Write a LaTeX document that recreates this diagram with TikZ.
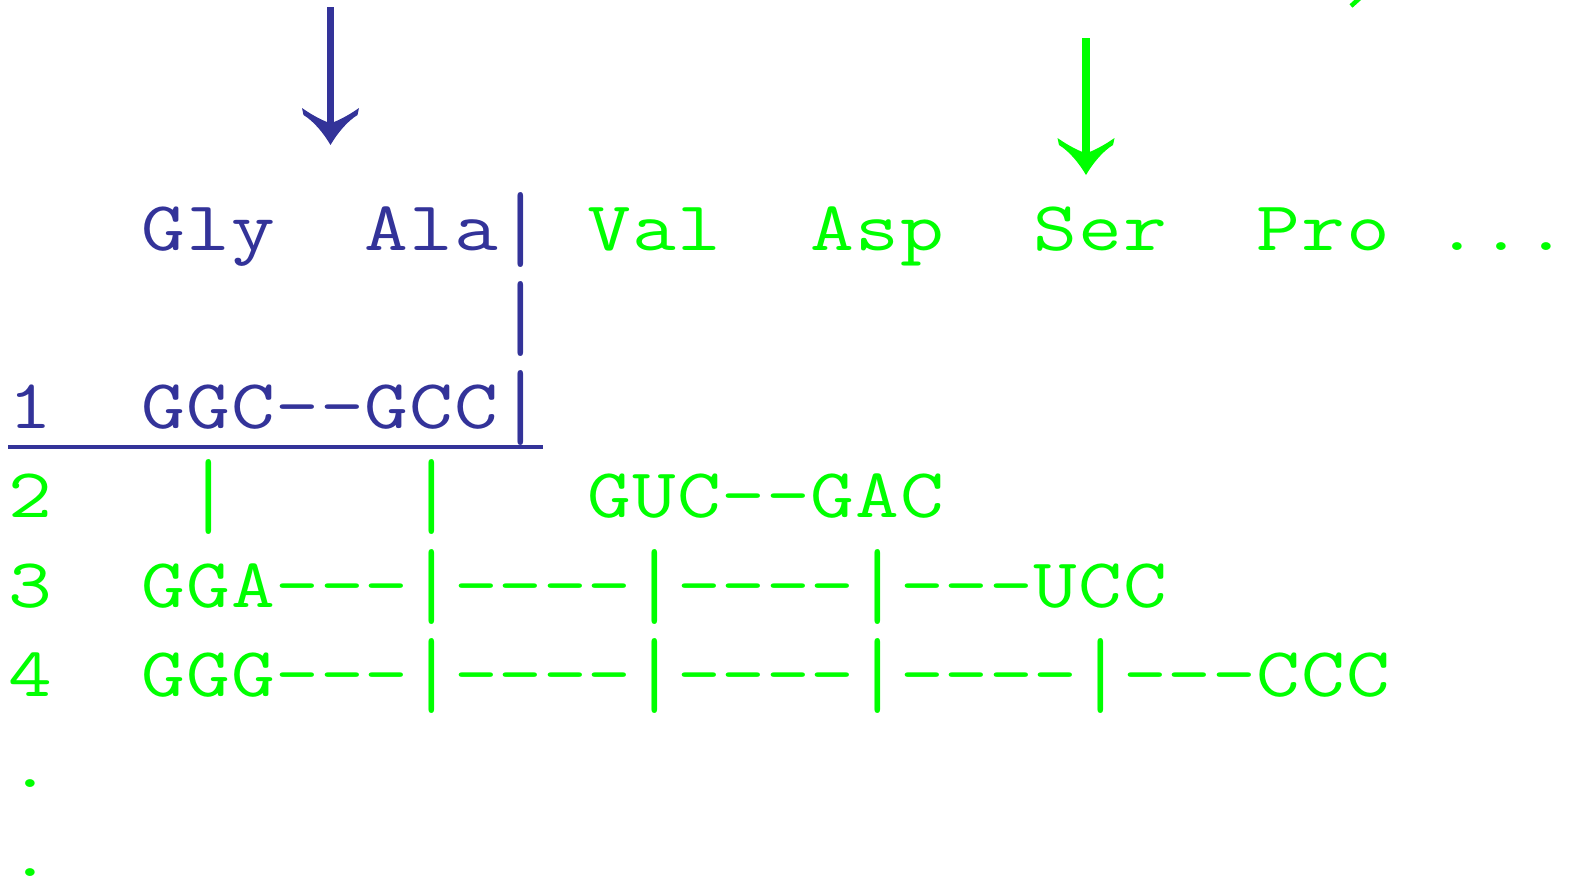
\documentclass[tikz,border=0pt]{standalone}
\usepackage{graphicx}
\definecolor{myblue}{RGB}{51,51,153}
\definecolor{mygreen}{RGB}{0,255,0}
\newlength\cellw
\setlength\cellw{36.75pt}
\newcommand\tallbar{\raisebox{-17pt}{\resizebox*{\cellw}{75pt}{\raisebox{\depth}{|}}}}
\makeatletter
\def\cellrow#1{\cellrow@#1\relax}
\def\cellrow@#1{\ifx\relax#1\else\cellbox{#1}\expandafter\cellrow@\fi}
\def\cellbox#1{\if*#1\hbox to\cellw{}\else\if|#1\hbox to\cellw{\hss\tallbar\hss}\else\hbox to\cellw{\hss#1\hss}\fi\fi}
\makeatother
\newcommand\cells[1]{\scalebox{1.2136}[1]{\cellrow{#1}}}
\tikzset{
  txt/.style={anchor=base west, inner sep=0pt, font=\fontsize{70}{84}\selectfont\ttfamily},
  blu/.style={txt, text=myblue},
  grn/.style={txt, text=mygreen},
  shaft/.style={line width=7.5pt},
  vhead/.pic={\fill (0,0) .. controls (-7,-12) and (-17,-24) .. (-27,-30) -- (-28.5,-37)
     .. controls (-20,-31) and (-11,-26) .. (-3.5,-23) -- (3.5,-23)
     .. controls (11,-26) and (20,-31) .. (28.5,-37) -- (27,-30)
     .. controls (17,-24) and (7,-12) .. (0,0) -- cycle;}
}
\begin{document}
\begin{tikzpicture}[x=1pt,y=-1pt]
\useasboundingbox (0,0) rectangle (1573,879);
% text rows
\node[blu] (r0a) at (7.5,250.7) {\cells{***Gly**Ala|}};
\node[grn] (r0b) at (542.7,250.7) {\cells{*Val**Asp**Ser**Pro*...}};
\node[blu] (r1) at (7.5,340) {\cells{***********|}};
\node[blu] (r2) at (7.5,428.5) {\cells{1**GGC--GCC|}};
\node[grn] (r3) at (7.5,517.8) {\cells{2***|****|***GUC--GAC}};
\node[grn] (r4) at (7.5,607.2) {\cells{3**GGA---|----|----|---UCC}};
\node[grn] (r5) at (7.5,696.6) {\cells{4**GGG---|----|----|----|---CCC}};
\node[grn] (d1) at (7.5,787) {\cells{.}};
\node[grn] (d2) at (7.5,876.5) {\cells{.}};
% underline
\coordinate (ul1) at (8,446.7);
\coordinate (ul2) at (543,446.7);
\draw[myblue, line width=4pt] (ul1) -- (ul2);
% blue arrow
\coordinate (b1) at (330.5,7);
\coordinate (b2) at (330.5,145);
\draw[myblue, shaft] (b1) -- ([yshift=21]b2);
\pic[myblue] at (b2) {vhead};
% green arrow
\coordinate (g1) at (1086,38);
\coordinate (g2) at (1086,175);
\draw[mygreen, shaft] (g1) -- ([yshift=21]g2);
\pic[mygreen] at (g2) {vhead};
% cut-off green stroke at top right
\coordinate (s1) at (1351,6);
\coordinate (s2) at (1361,-3);
\draw[mygreen, line width=4.5pt] (s1) -- (s2);
\end{tikzpicture}
\end{document}
